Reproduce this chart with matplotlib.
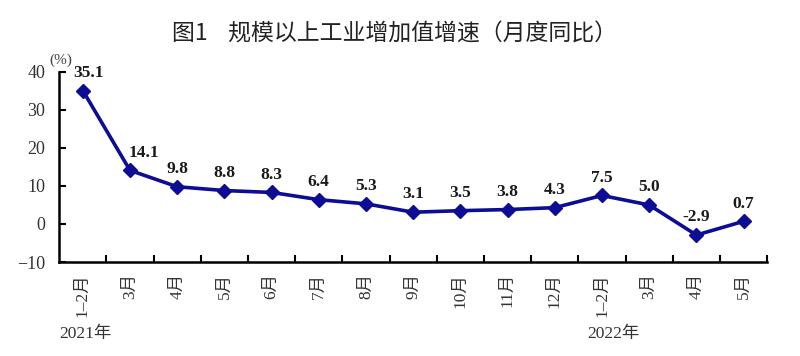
import matplotlib
matplotlib.use('Agg')
import matplotlib.pyplot as plt
from matplotlib.ticker import FixedLocator

# data
months = ['1–2月', '3月', '4月', '5月', '6月', '7月', '8月', '9月', '10月',
          '11月', '12月', '1–2月', '3月', '4月', '5月']
growth = [35.1, 14.1, 9.8, 8.8, 8.3, 6.4, 5.3, 3.1, 3.5, 3.8, 4.3, 7.5, 5.0, -2.9, 0.7]
yticks = [-10, 0, 10, 20, 30, 40]

serif = ['Liberation Serif', 'Noto Sans CJK SC']
cjk = ['Noto Sans CJK SC', 'DejaVu Sans']
navy = '#0c0c94'

fig = plt.figure(figsize=(8, 3.56), dpi=100)
ax = fig.add_axes([0.074, 0.264, 0.885, 0.534])

x = list(range(len(growth)))
ax.plot(x, growth, color=navy, lw=2.6, marker='D', ms=7, mfc=navy, mec=navy, zorder=3)

# value labels
for i, v in enumerate(growth):
    dx = 0
    if i == 0:
        dx = 4
    elif i == 1:
        dx = 10
    ax.annotate(f'{v:.1f}', (i, v), xytext=(dx, 7), textcoords='offset points',
                ha='center', va='bottom', fontsize=12.5, fontweight='bold',
                family=serif, color='#1a1a1a')

ax.set_xlim(-0.5, len(growth) - 0.5)
ax.set_ylim(-10, 40)
ax.set_yticks(yticks)
ax.set_yticklabels(['−10', '0', '10', '20', '30', '40'], family=serif,
                   fontsize=13, color='#333333')

ax.set_xticks(x)
ax.set_xticklabels(months, rotation=90, family=serif, fontsize=12.5, color='#333333')
ax.xaxis.set_minor_locator(FixedLocator([i + 0.5 for i in range(len(growth))]))
ax.tick_params(axis='x', which='major', length=0, pad=8)
ax.tick_params(axis='x', which='minor', direction='in', length=5, width=1.5)
ax.tick_params(axis='y', direction='in', length=5, width=1.5, pad=10)

for s in ['top', 'right']:
    ax.spines[s].set_visible(False)
for s in ['left', 'bottom']:
    ax.spines[s].set_linewidth(1.8)

fig.text(0.493, 0.905, '图1    规模以上工业增加值增速（月度同比）', ha='center', va='center',
         fontsize=16.5, family=cjk, color='#222222')
fig.text(0.062, 0.83, '(%)', ha='left', va='center', fontsize=11, family=serif, color='#444444')
fig.text(0.074, 0.062, '2021年', ha='left', va='center', fontsize=12.5, family=serif, color='#333333')
fig.text(0.734, 0.062, '2022年', ha='left', va='center', fontsize=12.5, family=serif, color='#333333')

fig.savefig('out.png', dpi=100)
